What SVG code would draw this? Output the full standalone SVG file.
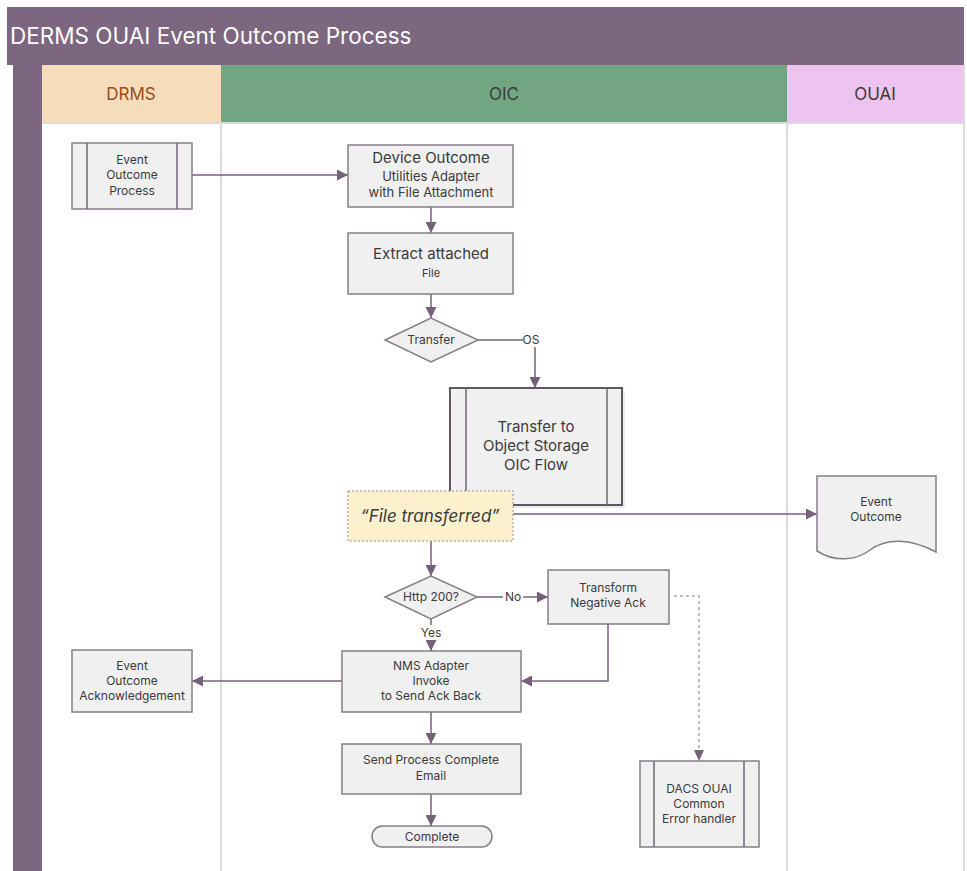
<svg xmlns="http://www.w3.org/2000/svg" width="967" height="871" viewBox="0 0 967 871">
<defs>
<marker id="ah" viewBox="0 0 10 10" refX="10" refY="5" markerWidth="11" markerHeight="11" markerUnits="userSpaceOnUse" orient="auto">
<path d="M0,0 L10,5 L0,10 Z" fill="#76617a"/>
</marker>
<style>
text{font-family:Inter,"Open Sans","Liberation Sans",sans-serif;fill:#3a3a3a;text-anchor:middle}
.box{fill:#f0f0f0;stroke:#857d89;stroke-width:1.5}
.sub{fill:none;stroke:#6f6673;stroke-width:1.5}
.edge{fill:none;stroke:#76617a;stroke-width:1.5}
.dot{fill:none;stroke:#b5b0b8;stroke-width:2;stroke-dasharray:1 5;stroke-linecap:round}
.lane{stroke:#dcdcdc;stroke-width:2}
.s11{font-size:11px}
.s12{font-size:12px}
.s15{font-size:15px}
</style>
</defs>
<rect width="967" height="871" fill="#ffffff"/>
<g id="pool">
<rect x="7" y="7" width="957" height="58" fill="#7d6680"/>
<text x="10" y="44" style="font-size:22.5px;fill:#ffffff;text-anchor:start">DERMS OUAI Event Outcome Process</text>
<rect x="13" y="65" width="29" height="806" fill="#7d6680"/>
<rect x="42" y="65" width="179" height="58" fill="#f5dcbb"/>
<rect x="221" y="65" width="566" height="58" fill="#72a683"/>
<rect x="787" y="65" width="177" height="58" fill="#efc3f0"/>
<text x="131" y="100" style="font-size:17px;fill:#9c4a1c">DRMS</text>
<text x="504" y="100" style="font-size:17px">OIC</text>
<text x="875" y="100" style="font-size:17px">OUAI</text>
<line class="lane" x1="42" y1="123" x2="964" y2="123"/>
<line class="lane" x1="221" y1="123" x2="221" y2="871"/>
<line class="lane" x1="787" y1="123" x2="787" y2="871"/>
<line class="lane" x1="964" y1="65" x2="964" y2="871"/>
</g>
<g id="connectors">
<line class="edge" x1="192" y1="175" x2="348" y2="175" marker-end="url(#ah)"/>
<line class="edge" x1="431" y1="207" x2="431" y2="233" marker-end="url(#ah)"/>
<line class="edge" x1="431" y1="294" x2="431" y2="318" marker-end="url(#ah)"/>
<line class="edge" x1="478" y1="340" x2="523" y2="340"/>
<line class="edge" x1="535" y1="347" x2="535" y2="388" marker-end="url(#ah)"/>
<line class="edge" x1="513" y1="514" x2="817" y2="514" marker-end="url(#ah)"/>
<line class="edge" x1="431" y1="541" x2="431" y2="576" marker-end="url(#ah)"/>
<line class="edge" x1="477" y1="597" x2="503" y2="597"/>
<line class="edge" x1="523" y1="597" x2="548" y2="597" marker-end="url(#ah)"/>
<line class="edge" x1="431" y1="619" x2="431" y2="625"/>
<line class="edge" x1="431" y1="641" x2="431" y2="651" marker-end="url(#ah)"/>
<polyline class="edge" points="608,624 608,681 521,681" marker-end="url(#ah)"/>
<line class="edge" x1="342" y1="681" x2="192" y2="681" marker-end="url(#ah)"/>
<line class="edge" x1="431" y1="712" x2="431" y2="744" marker-end="url(#ah)"/>
<line class="edge" x1="431" y1="794" x2="431" y2="826" marker-end="url(#ah)"/>
<polyline class="dot" points="675,596 699,596 699,752"/>
<path d="M694,750 L704,750 L699,761 Z" fill="#76617a"/>
<text x="531" y="344" class="s12">OS</text>
<text x="513" y="601" class="s12">No</text>
<text x="431" y="637" class="s12">Yes</text>
</g>
<g id="n-event-outcome-process">
<rect class="box" x="72" y="143" width="120" height="66"/>
<line class="sub" x1="87" y1="143" x2="87" y2="209"/>
<line class="sub" x1="177" y1="143" x2="177" y2="209"/>
<text x="132" y="164" class="s12">Event</text>
<text x="132" y="179" class="s12">Outcome</text>
<text x="132" y="195" class="s12">Process</text>
</g>
<g id="n-device-outcome">
<rect class="box" x="348" y="145" width="165" height="62"/>
<text x="431" y="163" style="font-size:15px">Device Outcome</text>
<text x="431" y="181" style="font-size:13px">Utilities Adapter</text>
<text x="431" y="197" style="font-size:13px">with File Attachment</text>
</g>
<g id="n-extract">
<rect class="box" x="348" y="233" width="165" height="61"/>
<text x="431" y="259" style="font-size:15px">Extract attached</text>
<text x="431" y="277" class="s11">File</text>
</g>
<g id="n-transfer">
<polygon class="box" points="385,340 431,318 478,340 431,362"/>
<text x="431" y="344" class="s12">Transfer</text>
</g>
<g id="n-transfer-os">
<rect x="453" y="391" width="172" height="117" fill="#dedede" opacity="0.6"/>
<rect x="450" y="388" width="172" height="117" style="fill:#f0f0f0;stroke:#5f5863;stroke-width:2"/>
<line class="sub" x1="466" y1="388" x2="466" y2="505"/>
<line class="sub" x1="607" y1="388" x2="607" y2="505"/>
<text x="536" y="432" class="s15">Transfer to</text>
<text x="536" y="451" class="s15">Object Storage</text>
<text x="536" y="470" class="s15">OIC Flow</text>
</g>
<g id="n-file-transferred">
<rect x="348" y="491" width="165" height="50" style="fill:#fdf1cd;stroke:#9a8f86;stroke-width:1;stroke-dasharray:2 2"/>
<text x="430" y="522" style="font-size:17px;font-style:italic">“File transferred”</text>
</g>
<g id="n-event-outcome-doc">
<path class="box" d="M817,476 H936 V552 C910,538 886,538 870,550 C856,561 834,562 817,551 Z"/>
<text x="876" y="506" class="s12">Event</text>
<text x="876" y="521" class="s12">Outcome</text>
</g>
<g id="n-http">
<polygon class="box" points="385,597 431,576 477,597 431,619"/>
<text x="431" y="601" class="s12">Http 200?</text>
</g>
<g id="n-transform-neg">
<rect class="box" x="548" y="570" width="121" height="54"/>
<text x="608" y="592" class="s12">Transform</text>
<text x="608" y="607" class="s12">Negative Ack</text>
</g>
<g id="n-nms">
<rect class="box" x="342" y="651" width="179" height="61"/>
<text x="431" y="670" class="s12">NMS Adapter</text>
<text x="431" y="685" class="s12">Invoke</text>
<text x="431" y="700" class="s12">to Send Ack Back</text>
</g>
<g id="n-ack">
<rect class="box" x="72" y="650" width="120" height="62"/>
<text x="132" y="670" class="s12">Event</text>
<text x="132" y="685" class="s12">Outcome</text>
<text x="132" y="700" class="s12">Acknowledgement</text>
</g>
<g id="n-email">
<rect class="box" x="342" y="744" width="179" height="50"/>
<text x="431" y="764" class="s12">Send Process Complete</text>
<text x="431" y="780" class="s12">Email</text>
</g>
<g id="n-complete">
<rect class="box" x="372" y="826" width="120" height="21" rx="10.5"/>
<text x="432" y="841" class="s12">Complete</text>
</g>
<g id="n-dacs">
<rect class="box" x="640" y="761" width="119" height="86"/>
<line class="sub" x1="654" y1="761" x2="654" y2="847"/>
<line class="sub" x1="744" y1="761" x2="744" y2="847"/>
<text x="699" y="793" class="s12">DACS OUAI</text>
<text x="699" y="808" class="s12">Common</text>
<text x="699" y="823" class="s12">Error handler</text>
</g>
</svg>
